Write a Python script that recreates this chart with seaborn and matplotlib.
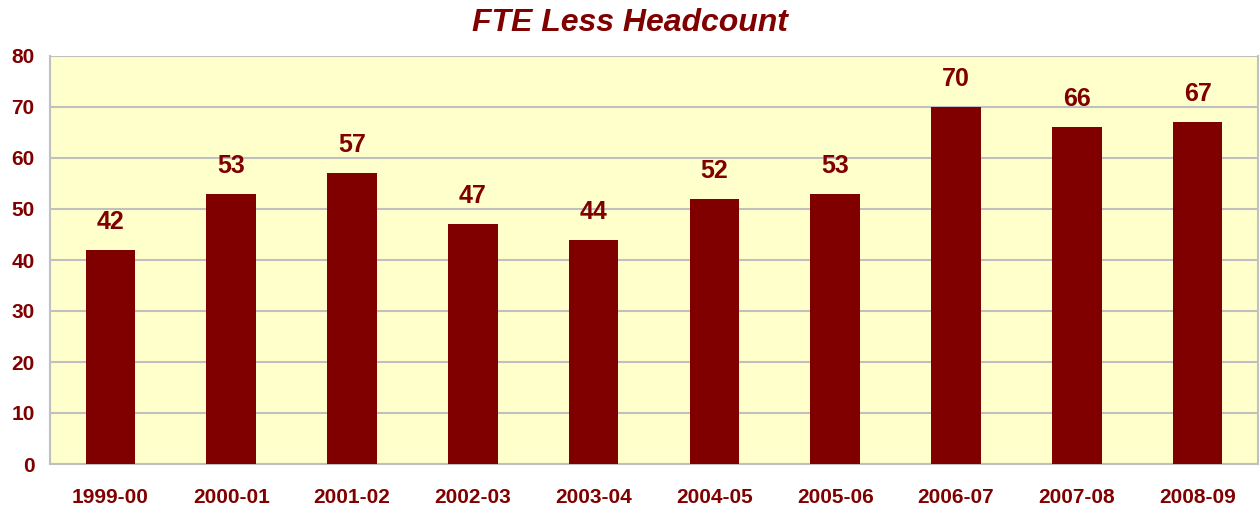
import matplotlib
matplotlib.use("Agg")
import matplotlib.pyplot as plt
import seaborn as sns
import pandas as pd
import numpy as np
from matplotlib.ticker import FixedLocator, MultipleLocator

years = ["1999-00", "2000-01", "2001-02", "2002-03", "2003-04",
         "2004-05", "2005-06", "2006-07", "2007-08", "2008-09"]
values = [42, 53, 57, 47, 44, 52, 53, 70, 66, 67]

sns.set_style("white")
plt.rcParams['font.family'] = ['Liberation Sans', 'DejaVu Sans']

RED = "#800000"
GRID = "#C0C0C0"

df = pd.DataFrame({"year": years, "value": values})

fig = plt.figure(figsize=(12.6, 5.11), dpi=100)
ax = fig.add_axes([50/1260, 1-464/511, 1208/1260, 408/511])
ax.set_facecolor("#FFFFCC")

sns.barplot(data=df, x="year", y="value", color=RED, saturation=1,
            width=0.41, linewidth=0, ax=ax, zorder=3)

for i, v in enumerate(values):
    ax.annotate(f"{v}", (i, v), xytext=(0, 11.5), textcoords="offset points",
                ha="center", va="bottom", fontsize=18, fontweight="bold",
                color=RED)

ax.set_xlim(-0.5, len(years) - 0.5)
ax.set_ylim(0, 80)
ax.yaxis.set_major_locator(MultipleLocator(10))
ax.yaxis.grid(True, color=GRID, linewidth=1.5, zorder=0)
ax.set_axisbelow(True)

ax.set_xlabel("")
ax.set_ylabel("")

for s in ["left", "bottom", "right", "top"]:
    ax.spines[s].set_color(GRID)
    ax.spines[s].set_linewidth(1.5)
ax.spines["top"].set_visible(False)

ax.tick_params(axis="y", which="major", length=5, width=1.5, color=GRID,
               labelsize=15, labelcolor=RED, pad=6)
for lbl in ax.get_yticklabels():
    lbl.set_fontweight("bold")

ax.tick_params(axis="x", which="major", length=0, labelsize=15,
               labelcolor=RED, pad=17)
for lbl in ax.get_xticklabels():
    lbl.set_fontweight("bold")
ax.xaxis.set_minor_locator(FixedLocator(np.arange(-0.5, len(years), 1.0)))
ax.tick_params(axis="x", which="minor", length=5, width=1.5, color=GRID)

fig.text(0.5, 1 - 23/511, "FTE Less Headcount", ha="center", va="center",
         fontsize=23, fontweight="bold", fontstyle="italic", color=RED)

fig.savefig("out.png", dpi=100, facecolor="white")
